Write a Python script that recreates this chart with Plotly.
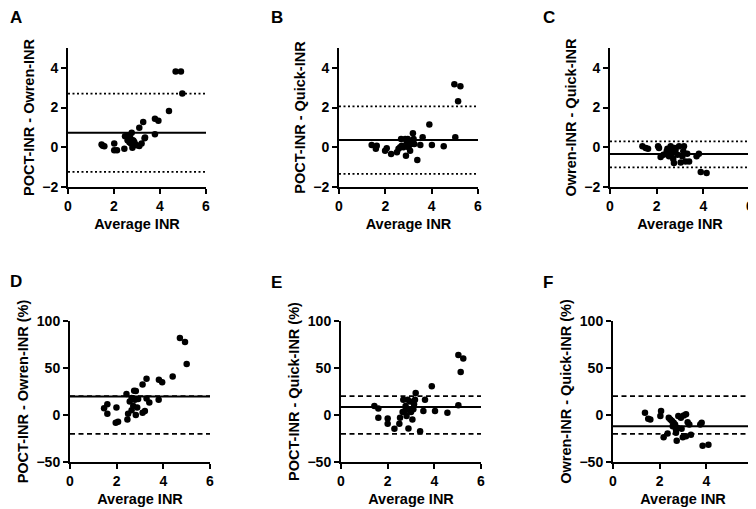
import plotly.graph_objects as go

# Bland-Altman data
a_x = [1.46, 1.58, 1.51, 2.01, 2.01, 2.13, 2.45, 2.48, 2.59, 2.70, 2.77, 2.74, 2.80, 2.88,
       2.80, 2.99, 3.10, 3.10, 3.27, 3.20, 3.35, 3.33, 3.78, 3.78, 3.93, 4.39, 4.68, 4.91,
       4.97, 2.62, 2.67, 2.84, 2.91]
a_y = [0.14, 0.05, 0.08, 0.19, -0.15, -0.15, -0.07, 0.56, 0.35, 0.49, 0.73, 0.19, 0.35, 0.27,
       -0.02, 0.10, 0.07, 0.98, 1.27, 0.19, 0.49, 0.45, 0.66, 1.44, 1.34, 1.83, 3.82, 3.82,
       2.71, 0.59, 0.25, 0.34, 0.17]

b_x = [1.41, 1.59, 1.63, 1.99, 2.06, 2.25, 2.50, 2.57, 2.64, 2.68, 2.71, 2.78, 2.86, 2.89,
       2.93, 2.97, 3.00, 3.07, 3.12, 3.19, 3.22, 3.25, 3.38, 3.51, 3.61, 3.90, 4.01, 4.52,
       5.02, 4.98, 5.24, 5.14]
b_y = [0.12, -0.08, 0.08, -0.17, -0.05, -0.34, -0.25, -0.08, 0.00, 0.42, 0.08, 0.00, 0.42, -0.42,
       0.25, 0.42, 0.00, -0.17, 0.17, 0.71, 0.42, 0.17, -0.64, 0.12, 0.51, 1.15, 0.12, 0.05,
       0.51, 3.17, 3.08, 2.32]

c_x = [1.39, 1.53, 1.63, 2.06, 2.10, 2.17, 2.29, 2.43, 2.46, 2.53, 2.60, 2.67, 2.71, 2.74,
       2.81, 2.89, 2.96, 3.03, 3.10, 3.17, 3.14, 3.24, 3.31, 3.39, 3.71, 3.81, 3.89, 4.14,
       2.60, 2.77]
c_y = [0.05, -0.03, -0.08, 0.05, -0.03, -0.49, -0.37, -0.20, -0.08, -0.45, -0.20, -0.29, -0.59, -0.79,
       -0.12, -0.37, 0.05, -0.76, -0.45, 0.05, -0.20, -0.71, -0.32, -0.71, -0.45, -0.32, -1.24, -1.29,
       0.05, -0.03]

d_x = [1.46, 1.60, 1.60, 1.99, 1.96, 2.06, 2.42, 2.46, 2.49, 2.56, 2.64, 2.71, 2.75, 2.78,
       2.82, 2.82, 2.88, 3.11, 3.11, 3.21, 3.28, 3.28, 3.40, 3.80, 3.81, 3.95, 4.40, 4.71,
       4.93, 5.00, 2.71, 2.64, 2.92]
d_y = [7.2, 11.5, 1.4, 7.9, -8.3, -7.2, 22.3, -4.7, 1.4, 14.4, 18.0, 9.7, 25.9, 16.2,
       25.5, 0.0, 7.9, 2.5, 32.4, 4.3, 38.5, 17.6, 13.3, 16.2, 37.4, 34.9, 41.0, 82.0,
       77.7, 54.3, 17.6, 5.0, 17.0]

e_x = [1.43, 1.60, 1.60, 2.00, 2.00, 2.29, 2.50, 2.53, 2.64, 2.67, 2.74, 2.77, 2.81, 2.86,
       2.89, 2.91, 2.96, 3.00, 3.06, 3.10, 3.17, 3.20, 3.13, 3.39, 3.53, 3.60, 3.89, 4.03,
       4.56, 5.03, 5.03, 5.24, 5.13]
e_y = [9.7, 6.8, -2.9, -3.6, -9.4, -14.7, -9.4, -2.9, 3.2, 16.2, 4.3, 9.7, -1.1, 16.2,
       -14.4, 6.1, 14.4, 3.2, -4.7, 6.1, 16.2, 23.4, 11.5, -17.3, 4.3, 16.2, 30.6, 4.3,
       2.5, 10.4, 63.7, 60.0, 45.7]

f_x = [1.37, 1.51, 1.60, 2.03, 2.06, 2.17, 2.34, 2.39, 2.46, 2.53, 2.56, 2.60, 2.66, 2.70,
       2.73, 2.77, 2.80, 2.91, 2.94, 2.99, 3.03, 3.13, 3.13, 3.20, 3.27, 3.34, 3.74, 3.80,
       3.84, 4.09, 2.70]
f_y = [2.5, -4.0, -4.7, -1.1, 4.3, -23.7, -19.8, -2.9, -4.7, -6.5, -11.9, -8.3, -10.1, -19.0,
       -27.3, -13.7, -1.1, -2.9, -14.7, -23.7, -0.4, 0.7, -22.7, -7.6, -10.1, -20.9, -10.1, -8.3,
       -32.7, -31.7, -15.5]

# bias and limits (top row: limits of agreement, bottom row: +/-20 %)
biases = [0.73, 0.37, -0.34, 19.8, 8.6, -11.9]
upper = [2.70, 2.06, 0.30, 20, 20, 20]
lower = [-1.24, -1.34, -1.01, -20, -20, -20]

letters = ["A", "B", "C", "D", "E", "F"]
y_titles = ["POCT-INR - Owren-INR", "POCT-INR - Quick-INR", "Owren-INR - Quick-INR",
            "POCT-INR - Owren-INR (%)", "POCT-INR - Quick-INR (%)", "Owren-INR - Quick-INR (%)"]
xs = [a_x, b_x, c_x, d_x, e_x, f_x]
ys = [a_y, b_y, c_y, d_y, e_y, f_y]

# page body has an 8px margin, so the figure starts at (8, 8)
OFF = 8
W, H = 756 - OFF, 509 - OFF
# plot area corners in window pixels (left, right, top, bottom)
boxes = [(68, 206, 48, 187), (339, 478, 48, 187), (610, 750, 48, 187),
         (70, 210, 321, 462), (341, 481, 321, 462), (613, 753, 321, 462)]
letter_pos = [(8, 6), (269, 6), (541, 6), (8, 270), (269, 271), (541, 271)]

bold = dict(family="Liberation Sans, Arial", weight="bold", color="black")
fig = go.Figure()

for i in range(6):
    n = i + 1
    xa = "x" if n == 1 else f"x{n}"
    ya = "y" if n == 1 else f"y{n}"
    ls = "2px,2.5px" if i < 3 else "5px,3.5px"
    for val, dash in [(upper[i], ls), (lower[i], ls), (biases[i], "solid")]:
        fig.add_trace(go.Scatter(x=[0, 6], y=[val, val], mode="lines", xaxis=xa, yaxis=ya,
                                 line=dict(color="black", width=2 if dash == "solid" else 1.7,
                                           dash=dash), showlegend=False, hoverinfo="skip"))
    fig.add_trace(go.Scatter(x=xs[i], y=ys[i], mode="markers", xaxis=xa, yaxis=ya,
                             marker=dict(color="black", size=6.5), showlegend=False))

    l, r, t, b = [v - OFF for v in boxes[i]]
    ax = dict(domain=[l / W, min(r / W, 1)], anchor=ya, range=[0, 6], tickvals=[0, 2, 4, 6],
              showline=True, linecolor="black", linewidth=2, ticks="outside", ticklen=5,
              tickwidth=2, tickcolor="black", showgrid=False, zeroline=False,
              automargin=False, tickfont=dict(size=14, **bold),
              title=dict(text="Average INR", font=dict(size=14.5, **bold), standoff=6))
    if i < 3:
        yr, yt = [-2, 5], [-2, 0, 2, 4]
    else:
        yr, yt = [-50, 100], [-50, 0, 50, 100]
    ay = dict(domain=[1 - b / H, 1 - t / H], anchor=xa, range=yr, tickvals=yt,
              showline=True, linecolor="black", linewidth=2, ticks="outside", ticklen=5,
              tickwidth=2, tickcolor="black", showgrid=False, zeroline=False,
              automargin=False, tickfont=dict(size=14, **bold),
              title=dict(text=y_titles[i], font=dict(size=14.5, **bold), standoff=4))
    fig.update_layout(**{("xaxis" if n == 1 else f"xaxis{n}"): ax,
                         ("yaxis" if n == 1 else f"yaxis{n}"): ay})
    lx, ly = letter_pos[i]
    fig.add_annotation(text=letters[i], x=(lx - OFF) / W, y=1 - (ly - OFF) / H,
                       xref="paper", yref="paper", xanchor="left", yanchor="top",
                       showarrow=False, font=dict(size=17, **bold))

fig.update_layout(width=W, height=H, margin=dict(l=0, r=0, t=0, b=0),
                  plot_bgcolor="white", paper_bgcolor="white")
fig.write_html("out.html")
